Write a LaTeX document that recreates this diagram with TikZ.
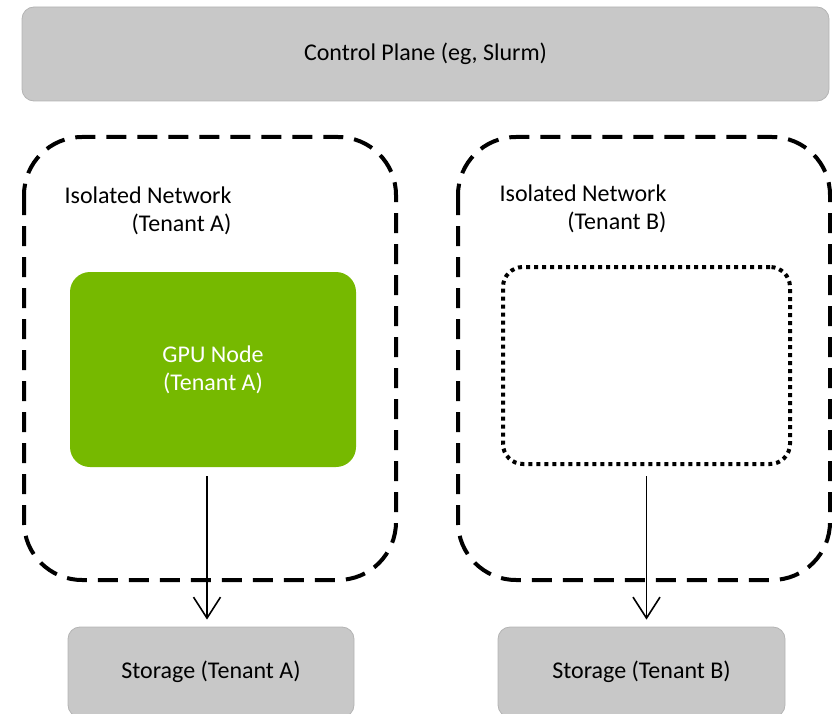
\documentclass[tikz,border=0pt]{standalone}
\usepackage{fontspec}
\setmainfont{Carlito}
\usetikzlibrary{arrows.meta}
\definecolor{boxgray}{HTML}{C8C8C8}
\definecolor{boxedge}{HTML}{B4B4B4}
\definecolor{nvgreen}{HTML}{76B900}
\tikzset{
  graybox/.style={draw=boxedge, line width=0.8pt, fill=boxgray, rounded corners=12pt,
    inner sep=0pt, font=\fontsize{24}{29}\selectfont},
  netbox/.style={draw=black, line width=4pt, dash pattern=on 20pt off 11pt,
    rounded corners=58pt},
  gpubox/.style={fill=nvgreen, rounded corners=20pt, inner sep=0pt, text=white,
    align=center, font=\fontsize{24}{28}\selectfont},
  emptybox/.style={draw=black, line width=4pt, dash pattern=on 4pt off 4pt,
    rounded corners=20pt, inner sep=0pt},
  netlabel/.style={align=right, inner sep=0pt, font=\fontsize{24}{28}\selectfont},
  flow/.style={draw=black, line width=1.6pt, -{Straight Barb[length=21pt,width=27pt,line width=1.6pt]}},
}
\begin{document}
\begin{tikzpicture}[x=1pt, y=-1pt]
  \useasboundingbox (0,0) rectangle (832,714);

  % control plane
  \node[graybox, minimum width=807pt, minimum height=94pt] (ctrl) at (425.5,54)
    {Control Plane (eg, Slurm)};

  % tenant networks
  \path[netbox] (24,137) rectangle (396,580);
  \path[netbox] (458,137) rectangle (830,580);
  \node[netlabel] (netA) at (148,211) {Isolated Network\\(Tenant A)};
  \node[netlabel] (netB) at (583,209) {Isolated Network\\(Tenant B)};

  % nodes inside the networks
  \node[gpubox, minimum width=286pt, minimum height=195pt] (gpu) at (213,369.5)
    {GPU Node\\(Tenant A)};
  \node[emptybox, minimum width=287pt, minimum height=197pt] (slotB) at (646.5,365.5) {};

  % storage
  \node[graybox, minimum width=286pt, minimum height=90pt] (stA) at (211,672)
    {Storage (Tenant A)};
  \node[graybox, minimum width=287pt, minimum height=90pt] (stB) at (641.5,672)
    {Storage (Tenant B)};

  % storage links
  \coordinate (outA) at ([xshift=-6pt, yshift=-9pt]gpu.south);
  \coordinate (outB) at ([yshift=-10pt]slotB.south);
  \draw[flow] (outA) -- ([yshift=7pt]stA.north -| outA);
  \draw[flow] (outB) -- ([yshift=7pt]stB.north -| outB);
\end{tikzpicture}
\end{document}
